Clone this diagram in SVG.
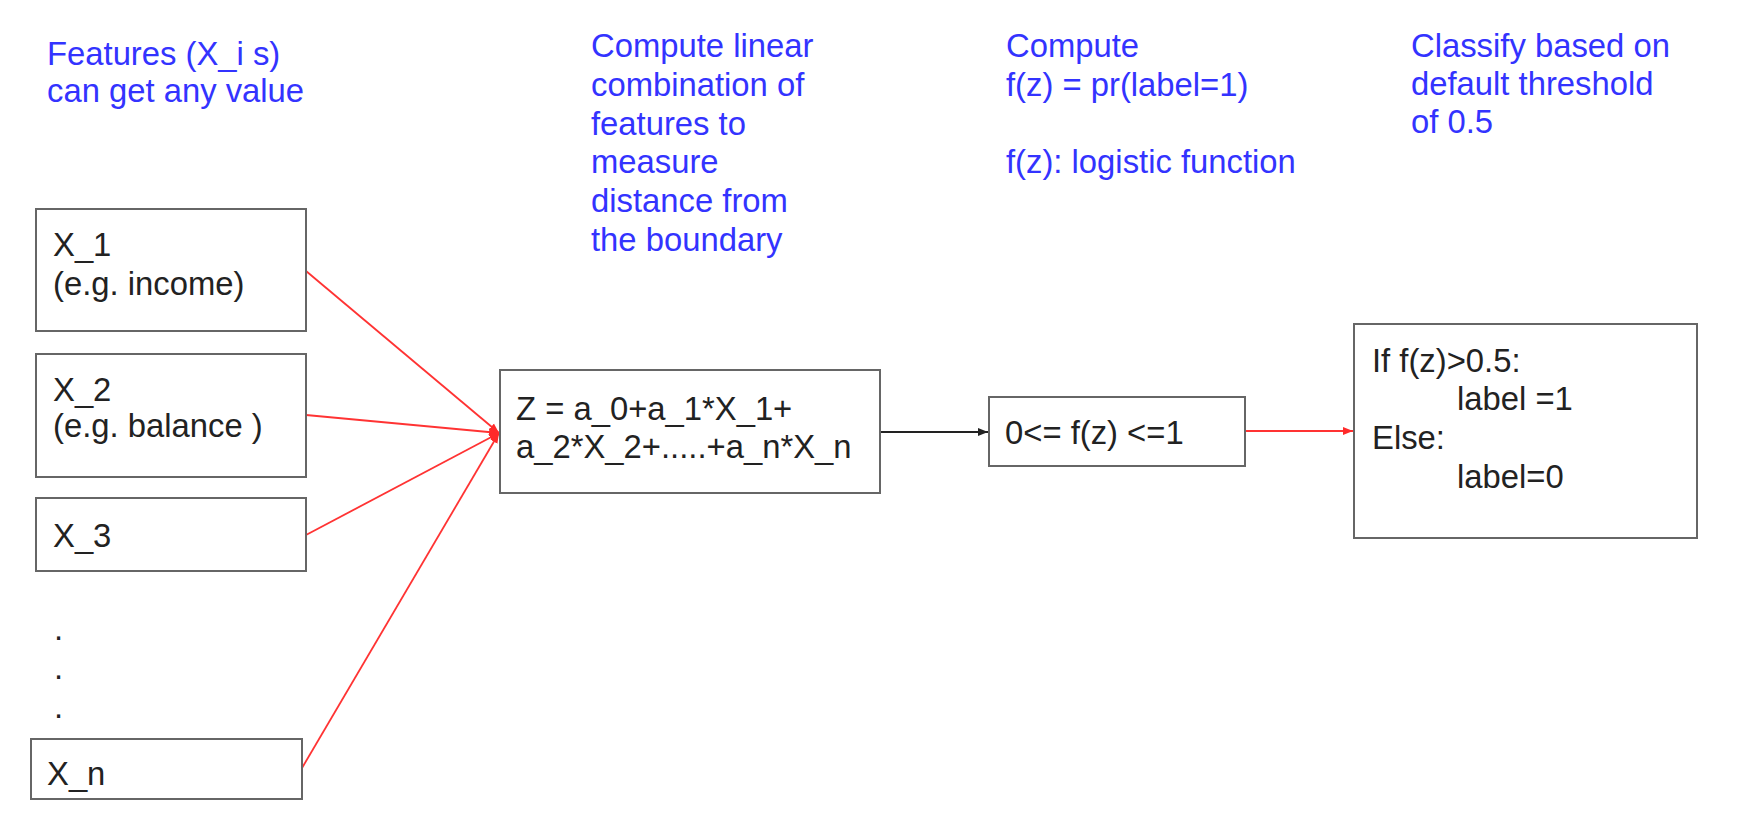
<svg xmlns="http://www.w3.org/2000/svg" width="1764" height="820" viewBox="0 0 1764 820">
<style>
  .note { font-family: "Liberation Sans", Arial, sans-serif; font-size: 32.8px; fill: #3333ff; }
  .txt { font-family: "Liberation Sans", Arial, sans-serif; font-size: 32.8px; fill: #222222; }
  .box { fill: #ffffff; stroke: #666666; stroke-width: 2; }
  .red { stroke: #ff3333; stroke-width: 1.8; fill: none; }
  .blk { stroke: #222222; stroke-width: 1.8; fill: none; }
</style>
<defs>
  <marker id="arR" markerUnits="userSpaceOnUse" markerWidth="12" markerHeight="10" refX="10" refY="5" orient="auto">
    <path d="M0,1 L10,5 L0,9 Z" fill="#ff2a2a"/>
  </marker>
  <marker id="arK" markerUnits="userSpaceOnUse" markerWidth="12" markerHeight="10" refX="10" refY="5" orient="auto">
    <path d="M0,1 L10,5 L0,9 Z" fill="#222222"/>
  </marker>
</defs>
<rect width="1764" height="820" fill="#ffffff"/>

<g id="notes">
  <text class="note" x="47" y="65">Features (X_i s)</text>
  <text class="note" x="47" y="102">can get any value</text>
  <text class="note" x="591" y="57">Compute linear</text>
  <text class="note" x="591" y="96">combination of</text>
  <text class="note" x="591" y="135">features to</text>
  <text class="note" x="591" y="173">measure</text>
  <text class="note" x="591" y="212">distance from</text>
  <text class="note" x="591" y="251">the boundary</text>
  <text class="note" x="1006" y="57">Compute</text>
  <text class="note" x="1006" y="96">f(z) = pr(label=1)</text>
  <text class="note" x="1006" y="173">f(z): logistic function</text>
  <text class="note" x="1411" y="57">Classify based on</text>
  <text class="note" x="1411" y="95">default threshold</text>
  <text class="note" x="1411" y="133">of 0.5</text>
</g>

<g id="connectors">
  <line class="red" x1="306" y1="271" x2="499" y2="433" marker-end="url(#arR)"/>
  <line class="red" x1="306" y1="415" x2="499" y2="433" marker-end="url(#arR)"/>
  <line class="red" x1="306" y1="535" x2="499" y2="433" marker-end="url(#arR)"/>
  <line class="red" x1="302" y1="768" x2="499" y2="433" marker-end="url(#arR)"/>
  <line class="blk" x1="880" y1="432" x2="988" y2="432" marker-end="url(#arK)"/>
  <line class="red" x1="1245" y1="431" x2="1353" y2="431" marker-end="url(#arR)"/>
</g>

<g id="x1">
  <rect class="box" x="36" y="209" width="270" height="122"/>
  <text class="txt" x="53" y="256">X_1</text>
  <text class="txt" x="53" y="295">(e.g. income)</text>
</g>
<g id="x2">
  <rect class="box" x="36" y="354" width="270" height="123"/>
  <text class="txt" x="53" y="401">X_2</text>
  <text class="txt" x="53" y="437">(e.g. balance )</text>
</g>
<g id="x3">
  <rect class="box" x="36" y="498" width="270" height="73"/>
  <text class="txt" x="53" y="547">X_3</text>
</g>
<g id="dots">
  <text class="txt" x="54" y="640">.</text>
  <text class="txt" x="54" y="679">.</text>
  <text class="txt" x="54" y="718">.</text>
</g>
<g id="xn">
  <rect class="box" x="31" y="739" width="271" height="60"/>
  <text class="txt" x="47" y="785">X_n</text>
</g>
<g id="z">
  <rect class="box" x="500" y="370" width="380" height="123"/>
  <text class="txt" x="516" y="420">Z = a_0+a_1*X_1+</text>
  <text class="txt" x="516" y="458">a_2*X_2+.....+a_n*X_n</text>
</g>
<g id="fz">
  <rect class="box" x="989" y="397" width="256" height="69"/>
  <text class="txt" x="1005" y="444">0&lt;= f(z) &lt;=1</text>
</g>
<g id="classify">
  <rect class="box" x="1354" y="324" width="343" height="214"/>
  <text class="txt" x="1372" y="372">If f(z)&gt;0.5:</text>
  <text class="txt" x="1457" y="410">label =1</text>
  <text class="txt" x="1372" y="449">Else:</text>
  <text class="txt" x="1457" y="488">label=0</text>
</g>
</svg>
